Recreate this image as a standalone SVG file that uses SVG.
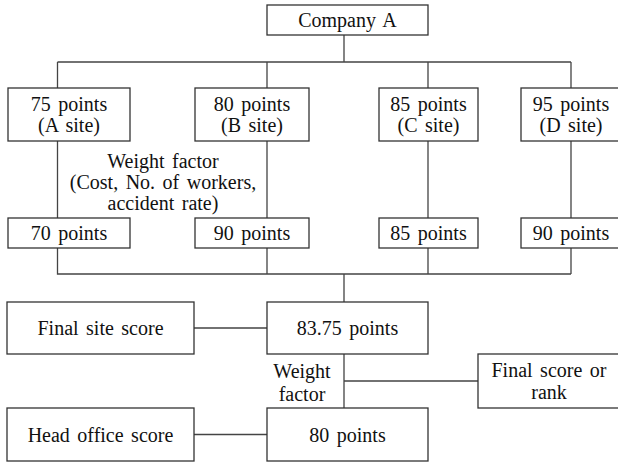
<svg xmlns="http://www.w3.org/2000/svg" width="618" height="462" viewBox="0 0 618 462">
<style>
.box{fill:#fff;stroke:#333;stroke-width:1.3}
.ln{fill:none;stroke:#444;stroke-width:1.3}
.t text{font-size:20px;fill:#111;text-anchor:middle;word-spacing:2.5px}
</style>
<rect width="618" height="462" fill="#fff"/>
<g id="connectors">
<path class="ln" d="M344,35V62M57.5,62H571M57.5,62V88M267,62V88M428,62V88M571,62V88"/>
<path class="ln" d="M57.5,141V218M267,141V218M428,141V218M571,141V218"/>
<path class="ln" d="M57.5,248V274H571M267,248V274M428,248V274M571,248V274M344,274V302"/>
<path class="ln" d="M194,328H267M344,354V408M344,381H478M194,434.5H267"/>
</g>
<g class="t" font-family="'Liberation Serif', 'DejaVu Serif', serif">
<g id="company"><rect class="box" x="267" y="5" width="161" height="30"/><text x="347.5" y="27">Company A</text></g>
<g id="siteA"><rect class="box" x="8" y="88" width="122" height="53"/><text x="69" y="111">75 points</text><text x="69" y="132">(A site)</text></g>
<g id="siteB"><rect class="box" x="195" y="88" width="114" height="53"/><text x="252" y="111">80 points</text><text x="252" y="132">(B site)</text></g>
<g id="siteC"><rect class="box" x="379" y="88" width="99" height="53"/><text x="428.5" y="111">85 points</text><text x="428.5" y="132">(C site)</text></g>
<g id="siteD"><rect class="box" x="521" y="88" width="100" height="53"/><text x="571" y="111">95 points</text><text x="571" y="132">(D site)</text></g>
<g id="weight1"><text x="163" y="168">Weight factor</text><text x="163" y="189">(Cost, No. of workers,</text><text x="163" y="210">accident rate)</text></g>
<g id="wA"><rect class="box" x="8" y="218" width="122" height="30"/><text x="69" y="240">70 points</text></g>
<g id="wB"><rect class="box" x="195" y="218" width="114" height="30"/><text x="252" y="240">90 points</text></g>
<g id="wC"><rect class="box" x="379" y="218" width="99" height="30"/><text x="428.5" y="240">85 points</text></g>
<g id="wD"><rect class="box" x="521" y="218" width="100" height="30"/><text x="571" y="240">90 points</text></g>
<g id="finalSite"><rect class="box" x="7" y="302" width="187" height="52"/><text x="100.5" y="335">Final site score</text></g>
<g id="score8375"><rect class="box" x="267" y="302" width="161" height="52"/><text x="347.5" y="335">83.75 points</text></g>
<g id="weight2"><text x="302" y="378">Weight</text><text x="302" y="401">factor</text></g>
<g id="finalScore"><rect class="box" x="478" y="354" width="143" height="54"/><text x="549" y="377">Final score or</text><text x="549" y="399">rank</text></g>
<g id="headOffice"><rect class="box" x="7" y="408" width="187" height="53"/><text x="100.5" y="441.5">Head office score</text></g>
<g id="score80"><rect class="box" x="267" y="408" width="161" height="53"/><text x="347.5" y="441.5">80 points</text></g>
</g>
</svg>
